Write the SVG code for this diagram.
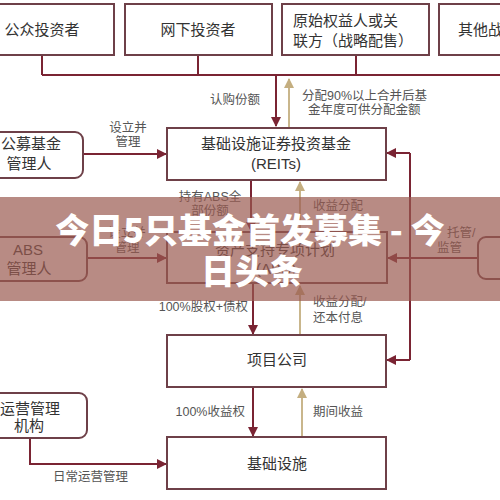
<svg xmlns="http://www.w3.org/2000/svg" width="500" height="500" viewBox="0 0 500 500">
<defs>
<marker id="ar" markerWidth="10" markerHeight="10" refX="9" refY="5" orient="auto" markerUnits="userSpaceOnUse"><path d="M0,0 L10,5 L0,10 Z" fill="#7a2433"/></marker>
<marker id="at" markerWidth="10" markerHeight="10" refX="9" refY="5" orient="auto" markerUnits="userSpaceOnUse"><path d="M0,0 L10,5 L0,10 Z" fill="#c4ae80"/></marker>
<style>
.box{fill:#fff;stroke:#6e4048;stroke-width:2}
.ln{fill:none;stroke:#7a2433;stroke-width:2}
.tn{fill:none;stroke:#c9b68c;stroke-width:2}
.bt{font-family:"Liberation Sans","Noto Sans CJK SC",sans-serif;font-size:15px;fill:#333}
.lb{font-family:"Liberation Sans","Noto Sans CJK SC",sans-serif;font-size:12.5px;fill:#555}
.c{text-anchor:middle}
.e{text-anchor:end}
</style>
</defs>
<rect width="500" height="500" fill="#fff"/>
<g id="connectors">
<path class="ln" d="M42,55 V75 M198,55 V75 M356,55 V75 M42,75 H500"/>
<path class="ln" d="M276,75 V126" marker-end="url(#ar)"/>
<path class="tn" d="M289,127 V79" marker-end="url(#at)"/>
<path class="ln" d="M83,154 H166" marker-end="url(#ar)"/>
<path class="ln" d="M251,180 V231" marker-end="url(#ar)"/>
<path class="tn" d="M300,232 V182" marker-end="url(#at)"/>
<path class="ln" d="M87,258 H166" marker-end="url(#ar)"/>
<path class="ln" d="M478,258 H388" marker-end="url(#ar)"/>
<path class="ln" d="M410,153 V360"/>
<path class="ln" d="M410,153 H387" marker-end="url(#ar)"/>
<path class="ln" d="M410,360 H387" marker-end="url(#ar)"/>
<path class="ln" d="M253,283 V334" marker-end="url(#ar)"/>
<path class="tn" d="M300,335 V286" marker-end="url(#at)"/>
<path class="ln" d="M253,387 V436" marker-end="url(#ar)"/>
<path class="tn" d="M302,437 V389" marker-end="url(#at)"/>
<path class="ln" d="M30,438 V464 H166" marker-end="url(#ar)"/>
<text class="lb" x="210" y="104">认购份额</text>
<text class="lb" x="302" y="100">分配90%以上合并后基</text>
<text class="lb" x="308" y="114">金年度可供分配金额</text>
<text class="lb c" x="128" y="132">设立并</text>
<text class="lb c" x="128" y="146">管理</text>
<text class="lb c" x="210" y="201">持有ABS全</text>
<text class="lb c" x="210" y="215">部份额</text>
<text class="lb" x="313" y="210">收益分配</text>
<text class="lb c" x="127" y="237">设立并</text>
<text class="lb c" x="127" y="252">管理</text>
<text class="lb" x="447" y="237">托管/</text>
<text class="lb" x="437" y="252">监管</text>
<text class="lb e" x="248" y="311">100%股权+债权</text>
<text class="lb" x="313" y="306">收益分配/</text>
<text class="lb" x="313" y="322">还本付息</text>
<text class="lb e" x="245" y="416">100%收益权</text>
<text class="lb" x="313" y="416">期间收益</text>
<text class="lb" x="53" y="481">日常运营管理</text>
</g>
<g id="n-public"><rect class="box" x="-2" y="4" width="116" height="51"/><text class="bt c" x="42" y="35">公众投资者</text></g>
<g id="n-offline"><rect class="box" x="125" y="4" width="147" height="51"/><text class="bt c" x="198" y="35">网下投资者</text></g>
<g id="n-original"><rect class="box" x="282" y="4" width="147" height="51"/><text class="bt" x="293" y="26">原始权益人或关</text><text class="bt" x="293" y="46">联方（战略配售）</text></g>
<g id="n-other"><rect class="box" x="439" y="4" width="80" height="51"/><text class="bt" x="458" y="35">其他战略投资者</text></g>
<g id="n-reits"><rect class="box" x="167" y="128" width="219" height="52"/><text class="bt c" x="276" y="149">基础设施证券投资基金</text><text class="bt c" x="276" y="169">(REITs)</text></g>
<g id="n-fundmgr"><rect class="box" x="-10" y="132" width="93" height="46" rx="8"/><text class="bt c" x="31" y="149">公募基金</text><text class="bt c" x="29" y="169">管理人</text></g>
<g id="n-absmgr"><rect class="box" x="-10" y="237" width="97" height="44" rx="8"/><text class="bt c" x="28" y="255">ABS</text><text class="bt c" x="29" y="274">管理人</text></g>
<g id="n-abs"><rect class="box" x="167" y="232" width="220" height="51"/><text class="bt c" x="275" y="255">资产支持专项计划</text><text class="bt c" x="276" y="274">(ABS)</text></g>
<g id="n-custody"><rect class="box" x="478" y="237" width="40" height="42" rx="8"/></g>
<g id="n-project"><rect class="box" x="167" y="335" width="219" height="52"/><text class="bt c" x="277" y="365">项目公司</text></g>
<g id="n-infra"><rect class="box" x="167" y="437" width="219" height="52"/><text class="bt c" x="277" y="469">基础设施</text></g>
<g id="n-operator"><rect class="box" x="-10" y="393" width="97" height="45" rx="8"/><text class="bt c" x="30" y="414">运营管理</text><text class="bt c" x="29" y="431">机构</text></g>
<g id="overlay">
<rect x="0" y="197" width="500" height="104" fill="#9a5a50" opacity="0.7"/>
<text x="250" y="243" text-anchor="middle" font-family="'Noto Sans CJK SC',sans-serif" font-weight="900" font-size="34" fill="#fff">今日5只基金首发募集 - 今</text>
<text x="252" y="284" text-anchor="middle" font-family="'Noto Sans CJK SC',sans-serif" font-weight="900" font-size="34" fill="#fff">日头条</text>
</g>
</svg>
